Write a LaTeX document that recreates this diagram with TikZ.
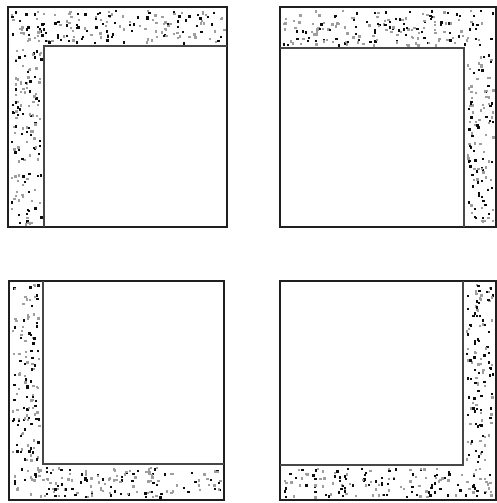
\documentclass[tikz,border=0pt]{standalone}
\newcommand\stip[4]{%
  \pgfmathsetmacro\sw{#3-#1}\pgfmathsetmacro\sh{#4-#2}%
  \pgfmathtruncatemacro\nn{\sw*\sh/50}%
  \foreach \k in {1,...,\nn}{%
    \pgfmathsetmacro\px{#1+2.5+rnd*(\sw-6)}%
    \pgfmathsetmacro\py{#2+2.5+rnd*(\sh-6)}%
    \pgfmathtruncatemacro\g{rnd<0.45 ? 95 : 38}%
    \fill[black!\g] (\px,\py) rectangle ++(2.3,2.4);
  }}
\begin{document}
\begin{tikzpicture}[x=1pt,y=-1pt,
  frame/.style={line width=2.4pt, draw=black!88},
  innerline/.style={line width=2.6pt, draw=black!72}]
\useasboundingbox (0,0) rectangle (497,503);
\fill[white] (0,0) rectangle (497,503);
\pgfmathsetseed{7}
% top-left
\stip{8}{7}{227}{46}
\stip{8}{46}{44}{227}
% top-right
\stip{280}{7}{496}{48}
\stip{464}{48}{496}{227}
% bottom-left
\stip{9}{281}{43}{464}
\stip{9}{464}{224}{500}
% bottom-right
\stip{463}{281}{496}{465}
\stip{280}{465}{496}{500}
% frames
\draw[frame] (8,7) rectangle (227,227);
\draw[innerline] (44,227) -- (44,46) -- (227,46);
\draw[frame] (280,7) rectangle (496,227);
\draw[innerline] (280,48) -- (464,48) -- (464,227);
\draw[frame] (9,281) rectangle (224,500);
\draw[innerline] (43,281) -- (43,464) -- (224,464);
\draw[frame] (280,281) rectangle (496,500);
\draw[innerline] (463,281) -- (463,465) -- (280,465);
\end{tikzpicture}
\end{document}
